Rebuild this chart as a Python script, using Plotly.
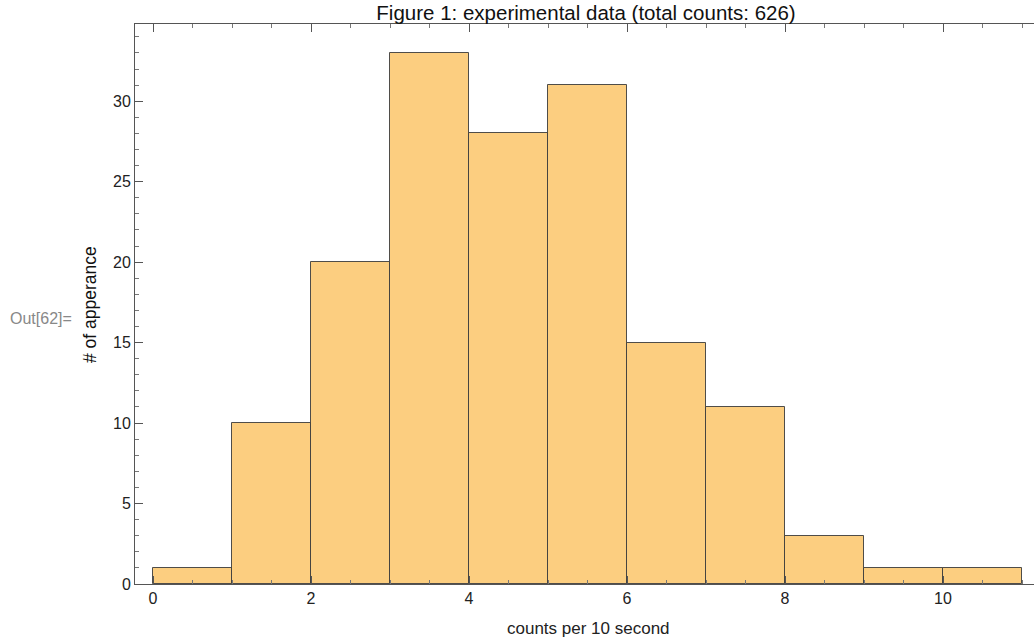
import plotly.graph_objects as go

bin_starts = [0, 1, 2, 3, 4, 5, 6, 7, 8, 9, 10]
bin_width = 1
counts = [1, 10, 20, 33, 28, 31, 15, 11, 3, 1, 1]
title_text = "Figure 1: experimental data (total counts: 626)"
x_title = "counts per 10 second"
y_title = "# of apperance"

centers = [b + bin_width / 2 for b in bin_starts]

fig = go.Figure()
fig.add_trace(go.Bar(
    x=centers, y=counts, width=bin_width,
    marker=dict(color="rgb(252,206,128)", line=dict(color="rgba(60,60,60,0.9)", width=1)),
    hoverinfo="x+y",
))

W, H = 1050, 638
L, R, T, B = 135, 0, 24, 54
PW = W - L - R
PX_PER_UNIT = 79.0
x_lo = -0.228
x_hi = x_lo + PW / PX_PER_UNIT

font_family = "Liberation Sans, Arial, sans-serif"
axis_common = dict(
    showgrid=False, zeroline=False, showline=True, linecolor="#555", linewidth=1,
    ticks="inside", tickcolor="#555", ticklen=8, tickwidth=1,
    mirror="ticks",
    tickfont=dict(family=font_family, size=16, color="#222"),
)
fig.update_layout(
    width=W, height=H,
    margin=dict(l=L, r=R, t=T, b=B),
    plot_bgcolor="white", paper_bgcolor="white",
    showlegend=False, bargap=0,
    title=dict(text=title_text, xref="paper", x=(586 - L) / PW, xanchor="center", y=0.98, yanchor="middle",
               font=dict(family=font_family, size=20.5, color="#111")),
    xaxis=dict(range=[x_lo, x_hi], tickvals=[0, 2, 4, 6, 8, 10],
               minor=dict(dtick=0.5, tick0=0, ticks="inside", ticklen=4, tickcolor="#777", showgrid=False),
               title=dict(text=x_title, font=dict(family=font_family, size=17, color="#222"), standoff=12),
               **axis_common),
    yaxis=dict(range=[0, 34.8], tickvals=[0, 5, 10, 15, 20, 25, 30],
               minor=dict(dtick=1, tick0=0, ticks="inside", ticklen=4, tickcolor="#777", showgrid=False),
               title=dict(text="", font=dict(family=font_family, size=17.5, color="#111")),
               **axis_common),
)
fig.add_annotation(text=y_title, xref="paper", yref="paper", x=(90 - L) / PW, y=(584 - 305) / (H - T - B),
                   xanchor="center", yanchor="middle", textangle=-90, showarrow=False,
                   font=dict(family=font_family, size=17.5, color="#111"))
fig.add_annotation(text="Out[62]=", xref="paper", yref="paper", x=(8 - L) / PW, y=0.475,
                   xanchor="left", yanchor="middle", showarrow=False,
                   font=dict(family=font_family, size=16, color="#888"))
fig.add_annotation(text=x_title, xref="paper", yref="paper", x=(588 - L) / PW, y=(584 - 628) / (H - T - B),
                   xanchor="center", yanchor="middle", showarrow=False,
                   font=dict(family=font_family, size=17, color="#222"))
fig.update_xaxes(title_text="")

fig.write_html("out.html", config={"displayModeBar": False},
               post_script="document.body.style.margin='0';document.body.style.overflow='hidden';")
